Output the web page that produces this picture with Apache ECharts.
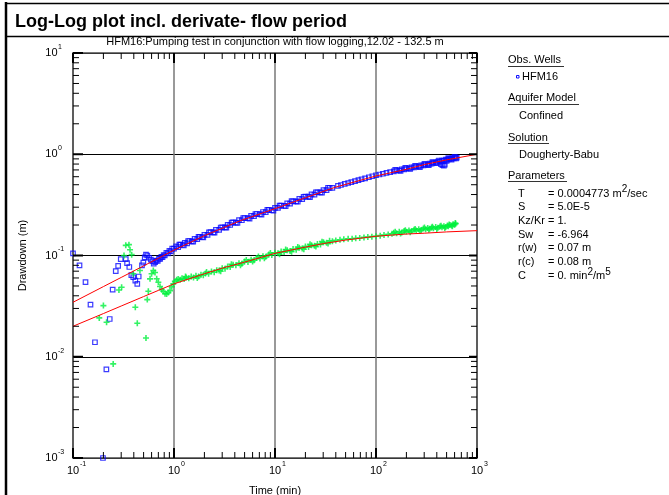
<!DOCTYPE html>
<html>
<head>
<meta charset="utf-8">
<script src="https://cdn.jsdelivr.net/npm/echarts@6/dist/echarts.min.js"></script>
<style>
html,body{margin:0;padding:0;background:#fff;}
#c{width:669px;height:495px;}
</style>
</head>
<body>
<div id="c"></div>
<script>
// ---------- text ----------
const titleText = 'Log-Log plot incl. derivate- flow period';
const subtitleText = 'HFM16:Pumping test in conjunction with flow logging,12.02 - 132.5 m';
const xAxisName = 'Time (min)';
const yAxisName = 'Drawdown (m)';
const xTickValues = [0.1, 1, 10, 100, 1000];
const yTickValues = [0.001, 0.01, 0.1, 1, 10];
const legendWell = 'HFM16';
const aquiferModel = 'Confined';
const solutionName = 'Dougherty-Babu';
const paramNames = ['T', 'S', 'Kz/Kr', 'Sw', 'r(w)', 'r(c)', 'C'];
const paramValues = ['= 0.0004773 m{s|2}/sec', '= 5.0E-5', '= 1.', '= -6.964', '= 0.07 m', '= 0.08 m', '= 0. min{s|2}/m{s|5}'];

// ---------- observed drawdown HFM16 [time min, drawdown m] ----------
const hfm16Drawdown = [
  [0.1,0.105],[0.116,0.080],[0.133,0.0545],[0.149,0.0327],[0.165,0.0139],[0.198,0.001],[0.214,0.0075],
  [0.231,0.0236],[0.247,0.046],[0.265,0.070],[0.28,0.079],[0.297,0.092],[0.333,0.092],[0.343,0.084],
  [0.361,0.077],[0.378,0.064],[0.395,0.061],[0.414,0.0566],[0.433,0.0525],[0.447,0.062],[0.482,0.080],
  [0.497,0.085],[0.513,0.096],[0.528,0.102],[0.544,0.100],[0.566,0.095],[0.59,0.091],[0.61,0.088],[0.63,0.083],
  [0.65,0.086],[0.67,0.089],[0.69,0.0885],[0.71,0.093],[0.73,0.0925],[0.75,0.097],[0.77,0.0965],[0.79,0.101],
  [0.81,0.100],[0.84,0.106],[0.87,0.105],[0.90,0.111],[0.93,0.110],[0.96,0.117],[1.0,0.117],
  [1.05,0.123],[1.1,0.121],[1.16,0.128],[1.22,0.127],[1.28,0.133],[1.35,0.132],[1.42,0.139],[1.5,0.138],
  [1.6,0.146],[1.7,0.145],[1.8,0.153],[1.9,0.152],[2.0,0.160],[2.15,0.160],[2.3,0.170],[2.45,0.169],
  [2.6,0.179],[2.8,0.179],[3.0,0.190],[3.2,0.190],[3.4,0.201],[3.6,0.200],[3.85,0.212],[4.1,0.211],
  [4.4,0.224],[4.7,0.223],[5.0,0.234],[5.4,0.234],[5.8,0.246],[6.2,0.245],[6.6,0.257],[7.1,0.256],
  [7.6,0.269],[8.1,0.268],[8.7,0.282],[9.3,0.280],[10,0.295],[10.7,0.295],[11.5,0.311],[12.3,0.310],
  [13.2,0.327],[14.1,0.326],[15.1,0.343],[16.2,0.343],[17.4,0.362],[18.6,0.361],[20,0.381],[21.5,0.381],
  [23,0.401],[24.6,0.400],[26.3,0.421],[28.2,0.421],[30.2,0.443],[32.4,0.443],[34.7,0.465],[37,0.465],
  [42,0.4875],[45,0.497],[49,0.509],[53,0.520],[57,0.531],[62,0.5436],[67,0.5556],[72,0.5664],[78,0.579],
  [85,0.593],[92,0.6064],[100,0.620],[108,0.6306],[117,0.6418],[127,0.6535],[138,0.6655],
  [150,0.678],[160,0.692],[170,0.693],[180,0.711],[190,0.710],[200,0.726],[212,0.726],[225,0.743],
  [238,0.742],[250,0.759],[265,0.758],[280,0.776],[295,0.775],[310,0.792],[325,0.790],[340,0.809],
  [355,0.808],[370,0.826],[390,0.827],[410,0.847],[430,0.847],[440,0.80],[450,0.866],[455,0.78],
  [470,0.865],[470,0.77],[480,0.79],[490,0.885],[510,0.884],[530,0.901],[550,0.898],[570,0.916],
  [590,0.912],[610,0.929],[630,0.925],
  [1.13,0.128],[1.25,0.1255],[1.38,0.139],[1.55,0.137],[1.75,0.153],[1.95,0.1505],[2.22,0.169],[2.52,0.168],
  [2.9,0.189],[3.3,0.1885],[3.72,0.211],[4.25,0.210],[4.85,0.2345],[5.6,0.2316],[6.4,0.257],[7.35,0.2537],
  [8.4,0.2817],[9.65,0.278],[11.1,0.3105],[12.75,0.3078],[14.6,0.3436],[16.8,0.341],[19.2,0.380],[22.2,0.378],
  [25.4,0.4215],[29.2,0.4175],[33.5,0.4668],
  [155,0.700],[175,0.685],[195,0.7355],[218,0.715],[244,0.769],[272,0.7475],[302,0.802],[333,0.7795],
  [362,0.8367],[400,0.8156],[420,0.8678],[500,0.8616],[520,0.914],[560,0.8837],[600,0.943],[620,0.908]
];

// ---------- derivative of drawdown [time min, derivative m] ----------
const hfm16Derivative = [
  [0.182,0.0242],[0.2,0.032],[0.215,0.0219],[0.25,0.0085],[0.285,0.0457],[0.303,0.0486],[0.32,0.100],
  [0.333,0.126],[0.358,0.128],[0.367,0.114],[0.381,0.102],[0.395,0.066],[0.414,0.0308],[0.433,0.0214],
  [0.46,0.071],[0.528,0.0153],[0.544,0.0367],[0.557,0.0443],[0.579,0.0588],[0.60,0.066],[0.624,0.071],
  [0.649,0.068],[0.674,0.059],[0.70,0.0545],[0.727,0.0494],[0.755,0.046],[0.784,0.0443],[0.815,0.042],
  [0.846,0.0417],[0.88,0.043],[0.913,0.045],[0.95,0.049],[0.984,0.0525],[1.02,0.0555],[1.063,0.0575],
  [1.1,0.0585],[1.15,0.0575],[1.2,0.0595],[1.26,0.0585],[1.32,0.0605],[1.4,0.0595],[1.48,0.062],
  [1.56,0.0605],[1.65,0.063],[1.75,0.062],[1.85,0.0645],[1.95,0.0638],[2.05,0.0665],[2.2,0.066],
  [2.35,0.0695],[2.5,0.0685],[2.65,0.0715],[2.8,0.071],[3.0,0.0748],[3.2,0.074],[3.4,0.0778],[3.6,0.077],
  [3.85,0.081],[4.1,0.080],[4.4,0.084],[4.7,0.083],[5.0,0.0872],[5.4,0.0865],[5.8,0.091],[6.2,0.090],
  [6.6,0.0945],[7.1,0.0935],[7.6,0.0985],[8.1,0.097],[8.7,0.1025],[9.3,0.101],[10,0.1065],[10.7,0.105],
  [11.5,0.1095],[12.3,0.108],[13.2,0.1128],[14.1,0.111],[15.1,0.116],[16.2,0.114],[17.4,0.1195],
  [18.6,0.1175],[20,0.123],[21.5,0.121],[23,0.1265],[24.6,0.1245],[26.3,0.130],[28.2,0.1285],[30.2,0.135],
  [32.4,0.1335],[34.7,0.140],[37,0.138],[40,0.141],[44,0.143],[48,0.1445],[53,0.146],[58,0.1465],
  [63,0.148],[69,0.149],[76,0.151],[83,0.152],[91,0.1535],[100,0.155],[110,0.157],[120,0.159],
  [132,0.1615],[144,0.164],[150,0.168],[160,0.166],[170,0.1715],[180,0.169],[190,0.1745],[200,0.172],
  [212,0.177],[225,0.1745],[238,0.1795],[250,0.1765],[265,0.182],[280,0.179],[295,0.185],[310,0.182],
  [325,0.187],[340,0.184],[355,0.189],[370,0.186],[390,0.191],[410,0.1875],[430,0.193],[450,0.190],
  [470,0.195],[490,0.1915],[510,0.1975],[520,0.195],[540,0.200],[560,0.198],[580,0.203],[600,0.201],[615,0.206],
  [1.3,0.062],[1.7,0.060],[2.1,0.0688],[2.9,0.070],[3.7,0.082],[4.55,0.0803],[5.2,0.0905],[6.0,0.087],
  [6.85,0.0979],[7.85,0.094],[9.0,0.106],[11.1,0.103],[12.75,0.1147],[14.6,0.1089],[16.8,0.1214],[19.3,0.1154],
  [22.2,0.1288],[25.4,0.1224],[29.2,0.137],[33.5,0.1311],
  [155,0.1717],[175,0.165],[195,0.178],[218,0.170],[244,0.1832],[272,0.175],[302,0.1885],[333,0.1795],
  [362,0.1924],[400,0.183],[440,0.1967],[480,0.1872],[530,0.2023],[570,0.194],[610,0.209]
];

// ---------- fitted model (Dougherty-Babu) ----------
const modelDrawdown = [
  [0.1,0.0345],[0.2,0.0493],[0.3,0.0607],[0.5,0.079],[0.7,0.0939],[1,0.113],[2,0.157],[4.5,0.220],
  [10,0.290],[20,0.372],[40,0.474],[100,0.610],[200,0.710],[300,0.790],[500,0.880],[1000,1.0]
];
const modelDerivative = [
  [0.1,0.020],[0.2,0.0267],[0.3,0.0317],[0.5,0.0393],[0.7,0.0452],[1,0.0525],[2,0.066],[3,0.075],
  [5,0.086],[10,0.105],[20,0.121],[30,0.131],[50,0.142],[100,0.155],[200,0.163],[300,0.166],[500,0.171],[1000,0.176]
];

const FONT = '"Liberation Sans", Arial, sans-serif';
const plusPath = 'path://M2.2,0h1.6v6h-1.6z M0,2.2h6v1.6h-6z';
const expOf = v => String(Math.round(Math.log10(v)));

const frameLine = { show: true, lineStyle: { color: '#4a4a4a', width: 1.5 } };
const baseLabel = { fontSize: 11, fontFamily: FONT, color: '#000', showMinLabel: true, showMaxLabel: true, hideOverlap: false };
const expLabelStyle = { fontSize: 7, fontFamily: FONT, color: '#000', showMinLabel: true, showMaxLabel: true, hideOverlap: false };
const hiddenAxisParts = { axisLine: { show: false }, axisTick: { show: false }, splitLine: { show: false } };

const option = {
  animation: false,
  backgroundColor: '#fff',
  grid: { left: 73, right: 192, top: 53, bottom: 37, containLabel: false, outerBoundsMode: 'none' },
  xAxis: [
    Object.assign({
      type: 'log', logBase: 10, min: 0.1, max: 1000, position: 'bottom',
      axisLine: frameLine, axisTick: { show: false },
      splitLine: { show: true, lineStyle: { color: '#777', width: 1.5 } },
      axisLabel: Object.assign({ formatter: () => '10', margin: 7 }, baseLabel),
      name: xAxisName, nameLocation: 'middle', nameGap: 27,
      nameTextStyle: { fontSize: 11, fontFamily: FONT, color: '#000' }
    }),
    {
      type: 'log', logBase: 10, min: 0.1, max: 1000, position: 'top',
      axisLine: frameLine, axisTick: { show: false }, axisLabel: { show: false }, splitLine: { show: false }
    },
    Object.assign({
      type: 'log', logBase: 10, min: 0.1, max: 1000, position: 'bottom',
      axisLabel: Object.assign({ formatter: expOf, margin: 3, align: 'left', padding: [0, 0, 0, 7] }, expLabelStyle)
    }, hiddenAxisParts)
  ],
  yAxis: [
    {
      type: 'log', logBase: 10, min: 0.001, max: 10, position: 'left',
      axisLine: frameLine, axisTick: { show: false },
      splitLine: { show: true, lineStyle: { color: '#000', width: 1 } },
      axisLabel: Object.assign({ formatter: () => '10', margin: 15.5 }, baseLabel),
      name: yAxisName, nameLocation: 'middle', nameGap: 45, nameRotate: 90,
      nameTextStyle: { fontSize: 11, fontFamily: FONT, color: '#000' }
    },
    {
      type: 'log', logBase: 10, min: 0.001, max: 10, position: 'right',
      axisLine: frameLine, axisTick: { show: false }, axisLabel: { show: false }, splitLine: { show: false }
    },
    Object.assign({
      type: 'log', logBase: 10, min: 0.001, max: 10, position: 'left',
      axisLabel: Object.assign({ formatter: expOf, margin: 15, align: 'left', verticalAlign: 'bottom', lineHeight: 12 }, expLabelStyle)
    }, hiddenAxisParts)
  ],
  series: [
    {
      type: 'scatter', name: legendWell, data: hfm16Drawdown, xAxisIndex: 0, yAxisIndex: 0,
      symbol: 'rect', symbolSize: 4.5,
      itemStyle: { color: 'rgba(0,0,0,0)', borderColor: '#0a0aff', borderWidth: 1.2 },
      z: 2, silent: true
    },
    {
      type: 'scatter', name: 'derivative', data: hfm16Derivative, xAxisIndex: 0, yAxisIndex: 0,
      symbol: plusPath, symbolSize: 6, symbolKeepAspect: true,
      itemStyle: { color: '#00f03c' },
      z: 3, silent: true
    },
    {
      type: 'line', name: 'model', data: modelDrawdown, showSymbol: false, symbol: 'none',
      lineStyle: { color: '#ff0000', width: 1 }, z: 4, silent: true
    },
    {
      type: 'line', name: 'model derivative', data: modelDerivative, showSymbol: false, symbol: 'none',
      lineStyle: { color: '#ff0000', width: 1 }, z: 4, silent: true
    }
  ]
};

const chart = echarts.init(document.getElementById('c'), null, { renderer: 'canvas' });
chart.setOption(option);

// ---------- ticks (positions from the chart's own scales) ----------
const g = [];
const yTop = chart.convertToPixel({ yAxisIndex: 0 }, 10);
const yBot = chart.convertToPixel({ yAxisIndex: 0 }, 0.001);
const xL = chart.convertToPixel({ xAxisIndex: 0 }, 0.1);
const xR = chart.convertToPixel({ xAxisIndex: 0 }, 1000);
function tickLine(x1, y1, x2, y2, w) {
  g.push({ type: 'line', z: 50, silent: true, shape: { x1, y1, x2, y2 }, style: { stroke: '#000', lineWidth: w } });
}
for (let d = 0; d < xTickValues.length; d++) {
  const dec = xTickValues[d];
  const kmax = d === xTickValues.length - 1 ? 1 : 9;
  for (let k = 1; k <= kmax; k++) {
    const px = chart.convertToPixel({ xAxisIndex: 0 }, k * dec);
    const major = k === 1;
    const len = major ? 10 : 6;
    tickLine(px, yBot, px, yBot - len, major ? 2 : 1);
    tickLine(px, yTop, px, yTop + len, major ? 2 : 1);
  }
}
for (let d = 0; d < yTickValues.length; d++) {
  const dec = yTickValues[d];
  const kmax = d === yTickValues.length - 1 ? 1 : 9;
  for (let k = 1; k <= kmax; k++) {
    const py = chart.convertToPixel({ yAxisIndex: 0 }, k * dec);
    const major = k === 1;
    tickLine(xL, py, xL + (major ? 10 : 6), py, major ? 2 : 1);
    tickLine(xR, py, xR - (major ? 8 : 6), py, major ? 2 : 1);
  }
}

// ---------- frame, title, legend ----------
function txt(x, y, text, opt) {
  g.push(Object.assign({
    type: 'text', x, y, silent: true, z: 60,
    style: Object.assign({ text, fill: '#000', font: '11px ' + FONT, textVerticalAlign: 'middle', textAlign: 'left' }, opt || {})
  }));
}
function hline(x1, x2, y, w, c) {
  g.push({ type: 'line', z: 60, silent: true, shape: { x1, y1: y, x2, y2: y }, style: { stroke: c || '#000', lineWidth: w } });
}
g.push({ type: 'line', z: 60, silent: true, shape: { x1: 6, y1: 2, x2: 6, y2: 495 }, style: { stroke: '#000', lineWidth: 2.5 } });
hline(6, 669, 3.5, 1.5);
hline(6, 669, 36.5, 1.5);
txt(15, 22, titleText, { font: 'bold 18px ' + FONT });
txt(275, 41.5, subtitleText, { textAlign: 'center' });

txt(508, 60, 'Obs. Wells');
hline(508, 564, 66.5, 1, '#333');
g.push({ type: 'rect', z: 60, silent: true, shape: { x: 516.5, y: 75.5, width: 2.5, height: 2.5 }, style: { fill: 'none', stroke: '#1010ff', lineWidth: 1 } });
txt(522, 77, legendWell);
txt(508, 97.5, 'Aquifer Model');
hline(508, 579, 104.5, 1, '#333');
txt(519, 116, aquiferModel);
txt(508, 137.5, 'Solution');
hline(508, 549, 143.5, 1, '#333');
txt(519, 155, solutionName);
txt(508, 176, 'Parameters');
hline(508, 567, 181.5, 1, '#333');
const rowY = [193.5, 207, 220.8, 234.6, 248.4, 262.4, 276.4];
const paramRich = {
  n: { fontSize: 11, lineHeight: 19, verticalAlign: 'middle', fontFamily: FONT, fill: '#000', color: '#000' },
  s: { fontSize: 10, lineHeight: 10, verticalAlign: 'top', fontFamily: FONT, fill: '#000', color: '#000' }
};
for (let i = 0; i < paramNames.length; i++) {
  txt(518, rowY[i], paramNames[i]);
  const parts = paramValues[i].split(/(\{s\|[^}]*\})/).filter(p => p.length).map(p => p.startsWith('{s|') ? p : '{n|' + p + '}').join('');
  txt(548, rowY[i], parts, { rich: paramRich });
}

chart.setOption({ graphic: g });
</script>
</body>
</html>
